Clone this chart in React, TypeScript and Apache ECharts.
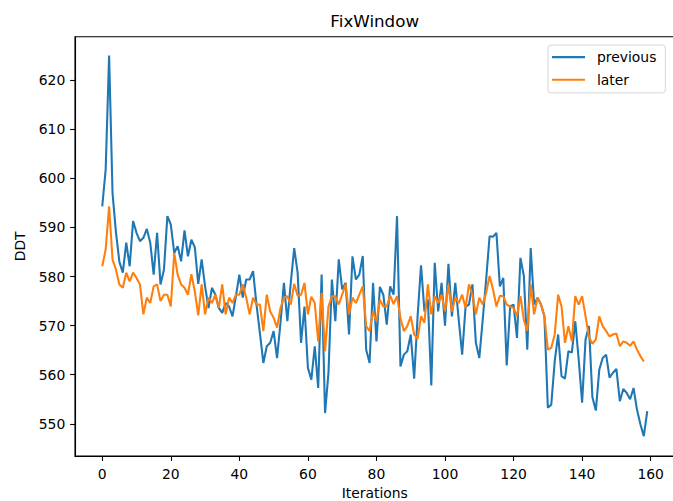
import React, { useEffect, useRef } from "react";
import * as echarts from "echarts";

const previous: number[] = [
  594.3, 601.8, 625.0, 597.0, 589.0, 583.0, 580.8, 586.9, 582.1, 591.3,
  588.9, 587.2, 587.9, 589.7, 586.9, 580.4, 588.9, 578.4, 581.4, 592.3,
  590.6, 584.8, 586.2, 583.1, 589.4, 584.1, 587.5, 586.0, 578.5, 583.5,
  578.0, 573.6, 577.7, 576.3, 573.6, 572.6, 574.6, 573.9, 571.9, 576.0,
  580.4, 575.7, 579.4, 579.4, 581.1, 574.3, 568.5, 562.4, 565.8, 566.5,
  568.9, 563.4, 570.6, 578.7, 570.9, 578.7, 585.8, 580.8, 566.5, 573.9,
  561.4, 559.0, 565.8, 557.3, 580.4, 552.2, 560.4, 579.4, 570.9, 583.5,
  577.4, 578.7, 568.2, 584.1, 579.4, 580.4, 584.2, 565.1, 562.4, 578.7,
  566.8, 577.9, 576.3, 570.2, 578.0, 576.3, 592.3, 561.7, 564.1, 564.8,
  568.2, 559.2, 571.9, 582.3, 572.9, 575.3, 557.8, 582.8, 572.9, 578.7,
  570.0, 582.6, 571.9, 578.7, 571.2, 564.1, 573.9, 574.3, 578.4, 566.5,
  563.4, 571.2, 579.4, 588.2, 588.1, 588.9, 578.0, 579.7, 561.9, 573.9,
  574.3, 567.5, 583.8, 580.1, 565.1, 585.8, 574.3, 575.7, 574.3, 571.9,
  553.3, 553.9, 562.7, 568.2, 559.7, 559.2, 564.8, 564.5, 570.9, 563.1,
  554.3, 567.2, 569.9, 555.4, 552.7, 561.0, 563.4, 564.1, 559.4, 560.4,
  561.2, 554.6, 557.1, 556.3, 555.0, 557.3, 552.9, 549.9, 547.5, 552.6,
];

const later: number[] = [
  582.1, 585.5, 594.3, 583.5, 581.4, 578.4, 577.7, 580.8, 579.0, 580.8,
  579.7, 578.4, 572.3, 575.7, 574.6, 578.0, 578.4, 575.0, 576.3, 576.3,
  573.9, 584.8, 580.4, 578.4, 577.7, 576.3, 580.5, 577.0, 572.1, 578.4,
  572.3, 575.7, 574.6, 576.3, 573.6, 578.4, 572.3, 575.7, 574.6, 576.3,
  576.3, 578.4, 575.7, 572.3, 575.7, 574.3, 574.3, 568.9, 576.3, 572.9,
  571.6, 569.6, 573.6, 575.7, 576.0, 574.3, 578.5, 576.1, 576.3, 578.7,
  572.3, 575.9, 574.6, 566.8, 576.7, 564.8, 573.9, 576.0, 576.0, 574.3,
  576.3, 578.4, 572.3, 575.7, 574.6, 576.3, 578.0, 569.9, 568.9, 572.9,
  570.9, 575.3, 573.9, 573.9, 576.1, 574.4, 576.0, 571.5, 568.9, 569.9,
  571.9, 568.2, 567.3, 571.9, 570.6, 578.4, 572.3, 576.0, 574.6, 576.3,
  572.9, 578.4, 572.9, 575.7, 574.6, 576.3, 573.6, 578.4, 576.3, 572.3,
  575.7, 574.3, 576.7, 580.1, 577.4, 573.9, 576.1, 576.0, 574.3, 573.9,
  573.6, 571.9, 576.0, 571.2, 568.9, 578.4, 572.3, 575.7, 574.3, 571.9,
  565.1, 565.5, 568.2, 576.3, 573.9, 566.5, 569.9, 566.8, 576.0, 574.3,
  576.0, 571.9, 567.7, 566.3, 567.2, 571.9, 569.9, 568.9, 567.8, 568.2,
  568.4, 565.8, 566.8, 566.5, 565.9, 566.8, 565.1, 563.8, 562.7,
];

const xTicks: number[] = [0, 20, 40, 60, 80, 100, 120, 140, 160];
const yTicks: number[] = [550, 560, 570, 580, 590, 600, 610, 620];

const FONT = "DejaVu Sans";

export default function App() {
  const ref = useRef<HTMLDivElement>(null);

  useEffect(() => {
    if (!ref.current) return;
    const chart = echarts.init(ref.current, undefined, { renderer: "svg" });
    const toPairs = (arr: number[]) => arr.map((v, i) => [i, v]);
    chart.setOption({
      animation: false,
      backgroundColor: "#ffffff",
      title: {
        text: "FixWindow",
        left: 374.7,
        top: 12,
        textAlign: "center",
        padding: 0,
        textStyle: { fontFamily: FONT, fontSize: 16.7, fontWeight: "normal", color: "#000" },
      },
      legend: {
        left: 548,
        top: 45,
        orient: "vertical",
        padding: [5, 9, 6, 4],
        icon: "rect",
        itemWidth: 33,
        itemHeight: 2.1,
        itemGap: 8.5,
        borderColor: "#d6d6d6",
        borderWidth: 1,
        borderRadius: 3,
        backgroundColor: "#ffffff",
        textStyle: {
          fontFamily: FONT,
          fontSize: 13.9,
          color: "#000",
          padding: [0, 0, 0, 7],
          lineHeight: 14.2,
        },
        data: ["previous", "later"],
      },
      grid: {
        left: 75,
        top: 36.7,
        width: 599.5,
        height: 419.3,
        show: true,
        borderColor: "#000",
        borderWidth: 1.1,
        backgroundColor: "transparent",
        containLabel: false,
        outerBoundsMode: "none",
      },
      xAxis: {
        type: "value",
        min: -7.95,
        max: 166.95,
        name: "Iterations",
        nameLocation: "middle",
        nameGap: 30,
        nameTextStyle: { fontFamily: FONT, fontSize: 13.9, color: "#000" },
        axisLine: { show: true, onZero: false, lineStyle: { color: "#000", width: 1.1 } },
        splitLine: { show: false },
        axisTick: {
          show: true,
          inside: false,
          length: 4.9,
          lineStyle: { color: "#000", width: 1.1 },
          customValues: xTicks,
        },
        axisLabel: {
          margin: 11,
          fontFamily: FONT,
          fontSize: 13.9,
          color: "#000",
          customValues: xTicks,
        },
      },
      yAxis: {
        type: "value",
        position: "left",
        min: 543.45,
        max: 628.85,
        splitLine: { show: false },
        name: "DDT",
        nameLocation: "middle",
        nameRotate: 90,
        nameGap: 48,
        nameTextStyle: { fontFamily: FONT, fontSize: 13.9, color: "#000" },
        axisLine: { show: true, onZero: false, lineStyle: { color: "#000", width: 1.1 } },
        axisTick: {
          show: true,
          inside: false,
          length: 4.9,
          lineStyle: { color: "#000", width: 1.1 },
          customValues: yTicks,
        },
        axisLabel: {
          margin: 9.7,
          fontFamily: FONT,
          fontSize: 13.9,
          color: "#000",
          customValues: yTicks,
        },
      },
      series: [
        {
          name: "previous",
          type: "line",
          data: toPairs(previous),
          symbol: "none",
          showSymbol: false,
          lineStyle: { color: "#1f77b4", width: 2.08 },
          itemStyle: { color: "#1f77b4" },
          z: 2,
        },
        {
          name: "later",
          type: "line",
          data: toPairs(later),
          symbol: "none",
          showSymbol: false,
          lineStyle: { color: "#ff7f0e", width: 2.08 },
          itemStyle: { color: "#ff7f0e" },
          z: 3,
        },
      ],
    });
    return () => chart.dispose();
  }, []);

  return (
    <div
      ref={ref}
      style={{ position: "fixed", left: 0, top: 0, width: 673, height: 501, background: "#fff" }}
    />
  );
}
